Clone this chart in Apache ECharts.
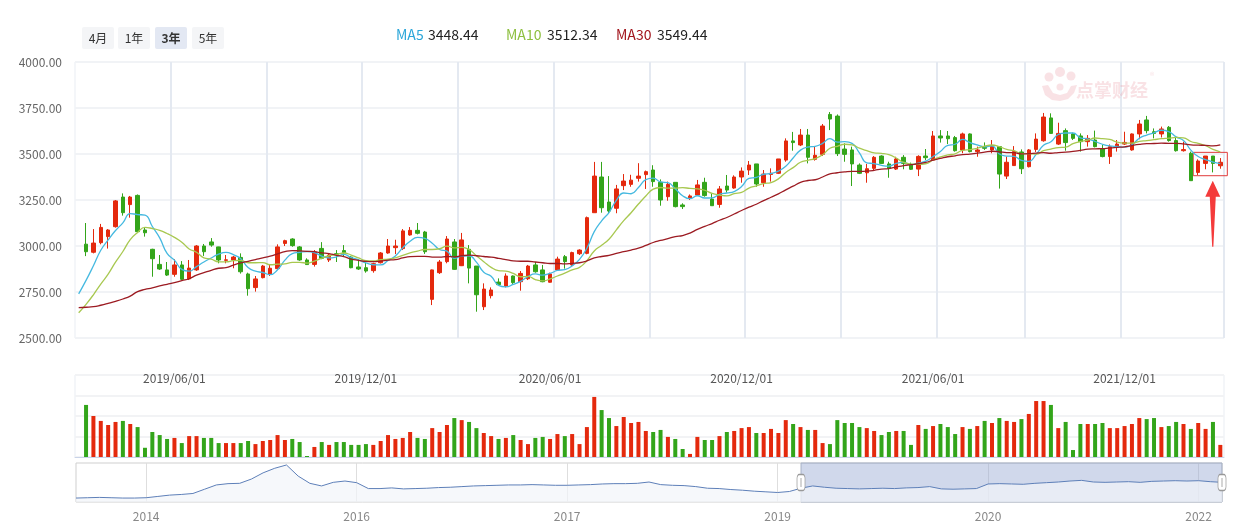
<!DOCTYPE html>
<html><head><meta charset="utf-8">
<script src="https://cdn.jsdelivr.net/npm/echarts@6/dist/echarts.min.js"></script>
<style>html,body{margin:0;padding:0;background:#fff;}#c{width:1258px;height:524px;}</style>
</head><body><div id="c"></div>
<script>
// ---------- DATA ----------
// weekly categories (first week has only MA values, no candle)
const categories = (function(){const a=[];let t=Date.UTC(2019,2,1);for(let i=0;i<156;i++){const d=new Date(t);a.push(d.getUTCFullYear()+'/'+String(d.getUTCMonth()+1).padStart(2,'0')+'/'+String(d.getUTCDate()).padStart(2,'0'));t+=7*864e5;}return a;})();
const axisLabelIdx = [13,39,64,90,116,142];
const axisLabelText = ['2019/06/01','2019/12/01','2020/06/01','2020/12/01','2021/06/01','2021/12/01'];
const splitIdx = [13,26,39,52,65,78,91,104,117,129,142];
const yTicks = [2500,4000,250];

const opens = [3010,2966,3018,3051,3105,3266,3225,3275,3087,2982,
2900,2870,2846,2897,2821,2870,3000,3022,2995,2922,
2924,2938,2848,2774,2828,2848,2877,3014,3038,2995,
2924,2900,2987,2924,2958,2975,2940,2886,2882,2866,
2909,2962,2991,2986,3060,3085,3076,2710,2855,2915,
3022,2893,2982,2891,2670,2730,2804,2783,2837,2806,
2822,2897,2870,2803,2870,2942,2897,2958,2960,3181,
3375,3239,3205,3328,3335,3368,3388,3413,3346,3268,
3346,3223,3259,3277,3346,3255,3226,3326,3315,3375,
3413,3446,3344,3389,3395,3467,3571,3549,3603,3471,
3498,3715,3706,3527,3522,3440,3398,3422,3489,3446,
3418,3482,3444,3418,3489,3467,3598,3598,3589,3522,
3609,3513,3540,3522,3540,3380,3437,3511,3431,3525,
3572,3696,3554,3627,3609,3598,3567,3576,3529,3486,
3540,3554,3522,3609,3685,3621,3609,3645,3573,3518,
3504,3400,3449,3489,3436];
const closes = [2969,3016,3101,3087,3245,3181,3266,3078,3072,2931,
2875,2842,2897,2819,2880,3000,2969,3005,2924,2925,
2940,2860,2768,2821,2891,2879,2995,3029,3002,2924,
2899,2967,2933,2951,2955,2964,2882,2875,2864,2904,
2962,3000,3000,3082,3085,3069,2969,2870,2913,3038,
2873,3033,2880,2735,2766,2761,2790,2837,2801,2851,
2891,2860,2806,2848,2929,2915,2964,2978,3154,3380,
3208,3190,3310,3353,3358,3380,3404,3350,3250,3335,
3214,3214,3272,3332,3274,3219,3310,3304,3375,3407,
3440,3337,3391,3395,3473,3571,3562,3603,3482,3493,
3652,3690,3502,3498,3446,3395,3420,3482,3449,3422,
3473,3449,3417,3487,3480,3598,3587,3583,3518,3609,
3513,3522,3531,3545,3391,3455,3513,3420,3522,3581,
3701,3612,3612,3562,3585,3567,3585,3540,3486,3540,
3554,3563,3609,3663,3627,3612,3636,3573,3518,3524,
3355,3462,3489,3449,3455];
const lows = [2945,2960,3009,2986,3100,3165,3154,3075,3051,2833,
2870,2837,2833,2815,2815,2865,2946,2996,2906,2906,
2879,2850,2730,2752,2824,2837,2873,3000,2996,2920,
2897,2888,2928,2913,2913,2940,2879,2870,2855,2855,
2905,2958,2956,2978,3056,3063,2957,2679,2848,2906,
2870,2891,2797,2643,2652,2715,2788,2775,2794,2757,
2815,2855,2803,2801,2866,2877,2891,2951,2955,3181,
3181,3178,3178,3304,3322,3350,3310,3322,3219,3246,
3210,3201,3250,3273,3268,3219,3208,3290,3311,3344,
3386,3322,3322,3350,3391,3458,3518,3543,3449,3464,
3489,3630,3489,3458,3326,3391,3344,3413,3446,3371,
3413,3417,3413,3380,3467,3467,3562,3554,3513,3504,
3509,3485,3522,3504,3312,3364,3437,3391,3427,3511,
3567,3609,3549,3518,3576,3513,3540,3536,3482,3446,
3513,3549,3518,3580,3612,3585,3590,3567,3513,3513,
3355,3386,3417,3400,3420];
const highs = [3125,3092,3120,3092,3250,3286,3272,3280,3101,2985,
2951,2913,2928,2918,2924,3005,3011,3043,2996,2951,
2946,2960,2855,2837,2897,2897,3009,3034,3042,3000,
2933,2978,3021,2958,2978,3005,2946,2928,2909,2909,
2967,3038,3034,3092,3103,3125,3082,2872,2924,3054,
3038,3071,3005,2891,2797,2775,2824,2851,2840,2864,
2897,2913,2897,2855,2942,2951,2969,2982,3160,3457,
3457,3380,3332,3391,3387,3450,3410,3439,3362,3350,
3346,3232,3280,3359,3371,3286,3326,3386,3384,3427,
3462,3446,3413,3422,3473,3585,3620,3636,3636,3540,
3663,3728,3715,3558,3540,3449,3446,3489,3493,3458,
3485,3494,3453,3493,3527,3625,3630,3625,3598,3616,
3612,3540,3563,3576,3540,3486,3543,3525,3527,3612,
3723,3721,3670,3639,3616,3612,3603,3627,3549,3552,
3576,3621,3612,3685,3707,3639,3649,3652,3594,3567,
3513,3471,3489,3489,3478];
const volumes = [254,200,176,156,171,176,161,146,45,122,
107,88,93,68,102,102,93,93,68,68,
68,68,78,63,78,83,107,83,88,73,
5,49,73,59,73,73,59,59,63,59,
78,107,88,93,122,93,88,141,122,156,
190,180,171,141,117,102,88,93,107,83,
63,93,98,88,112,102,112,63,146,293,
229,190,151,195,166,171,127,122,132,98,
88,39,15,98,83,83,102,122,127,141,
146,117,117,137,117,180,161,146,132,132,
68,63,180,166,166,146,141,127,107,122,
127,127,59,156,137,151,161,146,112,146,
137,151,176,166,190,176,171,185,210,273,
273,254,141,171,34,161,161,161,166,141,
141,151,161,190,185,190,146,151,171,161,
137,166,137,171,59];
const ma5 = [2740,2813,2893,2977,3033,3084,3126,3176,3171,3168,
3106,3044,2960,2923,2873,2863,2888,2913,2935,2956,
2965,2953,2931,2883,2863,2856,2844,2871,2923,2959,
2966,2970,2964,2945,2935,2941,2954,2937,2925,2908,
2898,2897,2921,2946,2990,3026,3047,3041,3015,2981,
2972,2933,2945,2947,2912,2857,2835,2786,2778,2791,
2808,2834,2848,2842,2851,2867,2872,2892,2927,2988,
3078,3137,3182,3248,3288,3284,3318,3361,3369,3348,
3344,3311,3273,3257,3273,3261,3262,3281,3288,3296,
3323,3367,3373,3390,3394,3407,3433,3478,3521,3538,
3542,3558,3584,3564,3567,3558,3506,3452,3448,3438,
3434,3449,3455,3442,3450,3461,3486,3514,3547,3553,
3579,3562,3549,3539,3544,3500,3489,3487,3465,3460,
3498,3547,3567,3606,3614,3614,3588,3582,3568,3553,
3544,3541,3537,3550,3586,3603,3615,3629,3622,3593,
3573,3521,3486,3470,3456,3448];
const ma10 = [2637,2683,2735,2793,2847,2912,2970,3035,3074,3101,
3095,3085,3068,3047,3021,2984,2966,2936,2929,2914,
2914,2920,2922,2909,2909,2910,2898,2901,2903,2911,
2911,2907,2918,2934,2947,2953,2962,2951,2935,2921,
2919,2926,2929,2936,2949,2962,2972,2981,2981,2985,
2999,2990,2993,2981,2947,2915,2884,2866,2863,2851,
2833,2835,2817,2810,2821,2837,2853,2870,2884,2920,
2973,3004,3037,3088,3138,3181,3228,3272,3309,3318,
3314,3314,3317,3313,3311,3303,3286,3277,3272,3285,
3292,3315,3327,3339,3345,3365,3400,3426,3455,3466,
3475,3496,3531,3542,3553,3550,3532,3518,3506,3503,
3496,3478,3454,3445,3444,3447,3468,3484,3495,3501,
3520,3524,3531,3543,3549,3540,3525,3518,3502,3502,
3499,3518,3527,3535,3537,3556,3568,3575,3587,3583,
3579,3564,3559,3559,3569,3573,3578,3583,3586,3590,
3588,3568,3558,3546,3525,3512];
const ma30 = [2665,2667,2670,2678,2688,2699,2712,2728,2752,2764,
2772,2783,2792,2801,2812,2822,2842,2855,2868,2879,
2882,2896,2908,2917,2926,2935,2945,2957,2969,2975,
2973,2971,2969,2963,2959,2949,2942,2929,2922,2916,
2915,2918,2923,2926,2935,2942,2944,2944,2940,2939,
2943,2941,2947,2950,2947,2943,2939,2933,2926,2919,
2917,2917,2913,2909,2905,2905,2903,2906,2909,2919,
2935,2943,2949,2960,2969,2978,2988,3003,3019,3030,
3040,3051,3057,3070,3090,3107,3122,3140,3155,3174,
3193,3211,3227,3247,3265,3283,3305,3325,3346,3356,
3360,3375,3392,3398,3403,3406,3406,3407,3411,3418,
3421,3429,3437,3442,3447,3454,3467,3476,3485,3490,
3497,3499,3505,3510,3515,3512,3508,3507,3501,3502,
3505,3507,3504,3508,3510,3514,3520,3526,3528,3529,
3533,3536,3539,3546,3552,3556,3557,3559,3558,3558,
3555,3550,3548,3547,3544,3549];
const legendNames = ['MA5','MA10','MA30'];
const legendValues = ['3448.44','3512.34','3549.44'];
const rangeButtons = ['4月','1年','3年','5年'];

// overview (slider) line, monthly from 2014/01
const sliderMonths = (function(){const a=[];for(let k=0;k<99;k++){const y=2014+Math.floor(k/12),m=k%12+1;a.push(y+'/'+String(m).padStart(2,'0'));}return a;})();
const sliderValues = [1929,1961,1993,1961,1929,1929,1961,2089,2217,2282,
2378,2795,3213,3341,3373,3790,4400,4850,5170,4079,
3373,3116,3469,3598,3437,2859,2859,2924,2827,2859,
2892,2956,2988,3052,3116,3148,3180,3213,3213,3245,
3213,3180,3180,3213,3245,3309,3341,3341,3373,3501,
3245,3180,3148,3052,2892,2859,2763,2698,2603,2538,
2474,2571,2892,3116,2988,2892,2859,2827,2859,2892,
2859,2924,2956,3052,2827,2795,2827,2859,3309,3341,
3309,3277,3373,3437,3501,3598,3662,3501,3469,3501,
3534,3469,3566,3598,3630,3598,3630,3534,3469];
const sliderLabelIdx = [6,24,42,60,78,96];
const sliderLabelText = ['2014','2016','2017','2019','2020','2022'];
const sliderRange = [62,98];
const sliderY = [1543,5363];

// ---------- CHART ----------
const UP='#e4290d', DOWN='#33a51a';
const C_MA5='#45b9e0', C_MA10='#a8c850', C_MA30='#9c1b22';
const FONT='"Noto Sans CJK SC","Noto Sans",sans-serif';
const chart = echarts.init(document.getElementById('c'));
const candleData = [['-','-','-','-']].concat(opens.map((o,i)=>[o,closes[i],lows[i],highs[i]]));
const volData = ['-'].concat(volumes.map((v,i)=>({value:v,itemStyle:{color:closes[i]>=opens[i]?UP:DOWN}})));
const sliderMid = (sliderY[0]+sliderY[1])/2;

const option = {
  animation:false,
  textStyle:{fontFamily:FONT},
  grid:[
    {left:75,top:62,width:1149,height:276,show:true,borderColor:'#e9edf3',borderWidth:1},
    {left:75,top:375,width:1149,height:82,show:true,borderColor:'#e9edf3',borderWidth:1},
    {left:76,top:463,width:1146,height:39,show:true,borderColor:'#cfcfcf',borderWidth:1}
  ],
  xAxis:[
    {type:'category',gridIndex:0,data:categories,boundaryGap:true,
     axisLine:{show:false},axisTick:{show:false},
     axisLabel:{show:true,margin:34,color:'#555',fontSize:12,fontFamily:FONT,
       interval:(i)=>axisLabelIdx.includes(i),
       formatter:(v,i)=>{const k=axisLabelIdx.indexOf(i);return k>=0?axisLabelText[k]:'';}},
     splitLine:{show:true,interval:(i)=>splitIdx.includes(i),lineStyle:{color:'#e4e9f1',width:2}}},
    {type:'category',gridIndex:1,data:categories,boundaryGap:true,
     axisLine:{show:true,lineStyle:{color:'#c9d3e8',width:1}},axisTick:{show:false},axisLabel:{show:false},splitLine:{show:false}},
    {type:'category',gridIndex:2,data:sliderMonths,boundaryGap:false,
     axisLine:{show:false},axisTick:{show:false},
     axisLabel:{show:true,margin:8,color:'#888',fontSize:12,fontFamily:FONT,
       interval:(i)=>sliderLabelIdx.includes(i),
       formatter:(v,i)=>{const k=sliderLabelIdx.indexOf(i);return k>=0?sliderLabelText[k]:'';}},
     splitLine:{show:true,interval:(i)=>sliderLabelIdx.includes(i),lineStyle:{color:'#dedede',width:1}}}
  ],
  yAxis:[
    {type:'value',gridIndex:0,min:yTicks[0],max:yTicks[1],interval:yTicks[2],
     axisLine:{show:false},axisTick:{show:false},
     axisLabel:{color:'#666',fontSize:12,margin:13,formatter:(v)=>v.toFixed(2)},
     splitLine:{lineStyle:{color:'#f1f3f6',width:2}}},
    {type:'value',gridIndex:1,min:0,max:400,interval:100,
     axisLine:{show:false},axisTick:{show:false},axisLabel:{show:false},
     splitLine:{lineStyle:{color:'#f2f3f5',width:2}}},
    {type:'value',gridIndex:2,min:sliderY[0],max:sliderY[1],show:false,splitLine:{show:false}}
  ],
  series:[
    {type:'candlestick',xAxisIndex:0,yAxisIndex:0,data:candleData,barWidth:4,
     itemStyle:{color:UP,color0:DOWN,borderColor:UP,borderColor0:DOWN,borderWidth:1}},
    {name:'MA5',type:'line',xAxisIndex:0,yAxisIndex:0,data:ma5,smooth:true,symbol:'none',lineStyle:{color:C_MA5,width:1.3}},
    {name:'MA10',type:'line',xAxisIndex:0,yAxisIndex:0,data:ma10,smooth:true,symbol:'none',lineStyle:{color:C_MA10,width:1.3}},
    {name:'MA30',type:'line',xAxisIndex:0,yAxisIndex:0,data:ma30,smooth:true,symbol:'none',lineStyle:{color:C_MA30,width:1.3}},
    {type:'bar',xAxisIndex:1,yAxisIndex:1,data:volData,barWidth:4},
    {type:'line',xAxisIndex:2,yAxisIndex:2,data:sliderValues,symbol:'none',smooth:false,
     lineStyle:{color:'#5d7fb8',width:1},areaStyle:{color:'#f2f5f9'},
     markArea:{silent:true,itemStyle:{color:'rgba(150,168,210,0.45)',borderColor:'#a9b3c6',borderWidth:1},
       data:[[{xAxis:sliderMonths[sliderRange[0]]},{xAxis:sliderMonths[sliderRange[1]]}]]}},
    {type:'scatter',xAxisIndex:2,yAxisIndex:2,z:5,
     data:[[sliderMonths[sliderRange[0]],sliderMid],[sliderMonths[sliderRange[1]],sliderMid]],
     symbol:'roundRect',symbolSize:[8,16],itemStyle:{color:'#fff',borderColor:'#999',borderWidth:1,opacity:1},
     label:{show:true,position:'inside',formatter:'‖',fontSize:9,color:'#888'}}
  ]
};
chart.setOption(option);

// ---------- decorations: buttons, legend, watermark, annotation ----------
const g = [];
rangeButtons.forEach((t,i)=>{
  const x=[82,118,155,192][i], active=(t==='3年');
  g.push({type:'rect',shape:{x:x,y:27,width:32,height:22,r:2},style:{fill:active?'#e3e8f3':'#f4f5f7'}});
  g.push({type:'text',x:x+16,y:38,style:{text:t,fill:'#333',font:(active?'bold ':'')+'12px '+FONT,textAlign:'center',textVerticalAlign:'middle'}});
});
const legendX=[396,506,616], legendColors=['#2aa6d9','#8dbf3f','#a2141c'];
legendNames.forEach((n,i)=>{
  g.push({type:'text',x:legendX[i],y:35,style:{text:n,fill:legendColors[i],font:'14px '+FONT,textVerticalAlign:'middle'}});
  const w = n.length===3?32:41;
  g.push({type:'text',x:legendX[i]+w,y:35,style:{text:legendValues[i],fill:'#222',font:'14px '+FONT,textVerticalAlign:'middle'}});
});
// watermark
const wm='rgba(232,140,150,0.25)';
g.push({type:'text',x:1076,y:90,style:{text:'点掌财经',fill:wm,font:'bold 18px '+FONT,textVerticalAlign:'middle'}});
g.push({type:'text',x:1150,y:76,style:{text:'®',fill:wm,font:'9px '+FONT,textVerticalAlign:'middle'}});
g.push({type:'circle',shape:{cx:1049,cy:77,r:4.5},style:{fill:wm}});
g.push({type:'circle',shape:{cx:1060,cy:72,r:5},style:{fill:wm}});
g.push({type:'circle',shape:{cx:1071,cy:76,r:4.5},style:{fill:wm}});
g.push({type:'polygon',shape:{points:[[1042,86],[1045,95],[1052,100],[1060,101],[1068,99],[1074,93],[1077,85],[1071,86],[1067,93],[1060,95],[1053,93],[1048,85]]},style:{fill:wm}});
g.push({type:'circle',shape:{cx:1060,cy:87,r:3.5},style:{fill:wm}});

// annotation box & arrow, positioned from data
const pL = chart.convertToPixel({xAxisIndex:0,yAxisIndex:0},[152,3509]);
const pR = chart.convertToPixel({xAxisIndex:0,yAxisIndex:0},[155,3382]);
const x0=pL[0]-5, x1=pR[0]+7, y0=pL[1], y1=pR[1];
g.push({type:'rect',shape:{x:x0,y:y0,width:x1-x0,height:y1-y0},style:{fill:'none',stroke:'#e03a3a',lineWidth:1}});
const ax=(pL[0]+pR[0])/2+3.5, ay=y1+5;
g.push({type:'polygon',shape:{points:[[ax,ay],[ax+7.5,ay+16],[ax+3,ay+16],[ax+0.6,ay+66],[ax-0.6,ay+66],[ax-3,ay+16],[ax-7.5,ay+16]]},style:{fill:'#f43b3b'}});
chart.setOption({graphic:g});
</script></body></html>
